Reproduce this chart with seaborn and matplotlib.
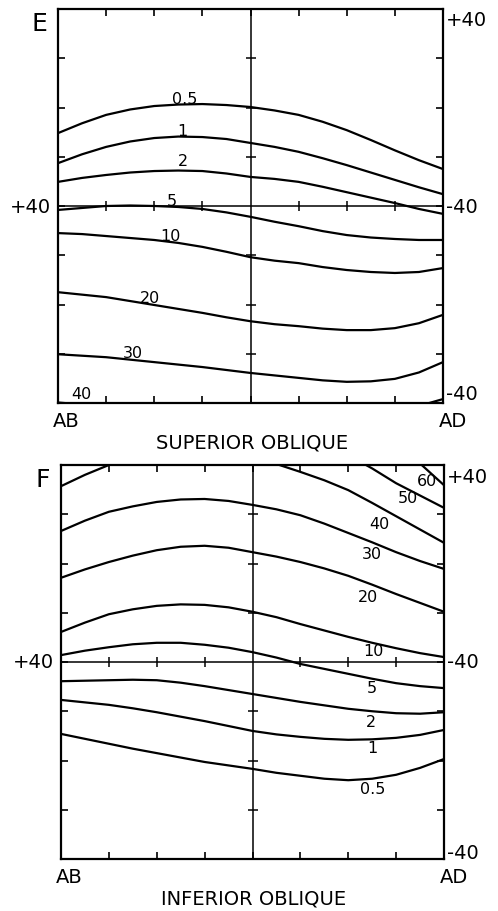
import numpy as np
import pandas as pd
import matplotlib
matplotlib.use("Agg")
import matplotlib.pyplot as plt
import seaborn as sns

# ---------------- data ----------------
x_pos = [-40, -35, -30, -25, -20, -15, -10, -5, 0, 5, 10, 15, 20, 25, 30, 35, 40]

# Panel E: superior oblique
e_levels = ["0.5", "1", "2", "5", "10", "20", "30", "40"]
e_05 = [14.8, 16.8, 18.5, 19.6, 20.3, 20.6, 20.7, 20.5, 20.1, 19.4, 18.5, 17.1, 15.4, 13.4, 11.3, 9.3, 7.5]
e_1 = [8.7, 10.5, 12.0, 13.1, 13.8, 14.1, 14.0, 13.6, 12.8, 12.0, 11.0, 9.7, 8.3, 6.8, 5.3, 3.8, 2.4]
e_2 = [4.9, 5.7, 6.3, 6.8, 7.1, 7.2, 7.1, 6.6, 5.9, 5.5, 4.9, 3.9, 2.8, 1.7, 0.6, -0.6, -1.6]
e_5 = [-0.8, -0.4, 0.0, 0.1, 0.0, -0.2, -0.6, -1.3, -2.2, -3.2, -4.1, -5.1, -5.9, -6.4, -6.7, -6.9, -6.9]
e_10 = [-5.5, -5.7, -6.1, -6.5, -6.9, -7.5, -8.3, -9.3, -10.4, -11.1, -11.6, -12.4, -13.0, -13.4, -13.6, -13.4, -12.6]
e_20 = [-17.5, -18.0, -18.5, -19.3, -20.1, -20.9, -21.7, -22.6, -23.4, -24.0, -24.4, -24.9, -25.2, -25.2, -24.8, -23.8, -22.1]
e_30 = [-30.1, -30.4, -30.7, -31.2, -31.7, -32.2, -32.7, -33.3, -33.9, -34.4, -34.9, -35.4, -35.7, -35.6, -35.1, -33.8, -31.7]
e_40 = [-39.9, -40.3, -40.7, -41.3, -42.0, -42.8, -43.6, -44.4, -45.0, -45.6, -46.0, -46.2, -46.0, -45.0, -43.0, -40.6, -39.2]
e_curves = [e_05, e_1, e_2, e_5, e_10, e_20, e_30, e_40]
e_label_x = [-13.6, -14.2, -14.0, -16.3, -16.7, -20.9, -24.4, -35.2]
e_label_y = [21.9, 15.4, 9.3, 1.2, -5.9, -18.5, -29.8, -38.0]

# Panel F: inferior oblique
f_levels = ["60", "50", "40", "30", "20", "10", "5", "2", "1", "0.5"]
f_60 = [54.0, 56.5, 58.3, 59.5, 60.0, 60.2, 60.0, 59.2, 58.0, 56.3, 54.0, 51.5, 49.5, 47.0, 44.0, 40.3, 35.9]
f_50 = [45.0, 47.2, 49.0, 50.2, 51.0, 51.4, 51.5, 51.0, 50.0, 48.5, 46.5, 44.4, 42.0, 39.3, 36.3, 33.8, 31.3]
f_40 = [35.7, 38.0, 40.0, 41.2, 42.0, 42.5, 42.6, 42.2, 41.4, 40.2, 38.6, 36.9, 34.9, 32.3, 29.6, 26.9, 24.2]
f_30 = [26.6, 28.7, 30.5, 31.6, 32.5, 33.0, 33.1, 32.7, 31.9, 31.0, 29.8, 28.1, 26.2, 24.3, 22.3, 20.5, 18.9]
f_20 = [17.1, 18.8, 20.3, 21.6, 22.7, 23.4, 23.6, 23.2, 22.3, 21.4, 20.3, 19.0, 17.5, 15.7, 13.8, 12.0, 10.2]
f_10 = [6.1, 8.0, 9.7, 10.7, 11.4, 11.7, 11.6, 11.1, 10.2, 9.1, 7.7, 6.4, 5.1, 3.9, 2.8, 1.8, 1.0]
f_5 = [1.4, 2.3, 3.0, 3.6, 3.9, 3.9, 3.5, 2.9, 2.0, 0.9, -0.4, -1.4, -2.4, -3.4, -4.3, -4.9, -5.3]
f_2 = [-3.9, -3.8, -3.7, -3.6, -3.7, -4.2, -4.9, -5.7, -6.5, -7.3, -8.1, -8.8, -9.5, -10.0, -10.4, -10.5, -10.2]
f_1 = [-7.7, -8.2, -8.7, -9.4, -10.2, -11.1, -12.0, -13.0, -14.0, -14.7, -15.2, -15.6, -15.8, -15.7, -15.4, -14.8, -13.8]
f_05 = [-14.6, -15.6, -16.6, -17.6, -18.5, -19.4, -20.3, -21.0, -21.7, -22.5, -23.1, -23.7, -24.0, -23.7, -22.9, -21.5, -19.7]
f_curves = [f_60, f_50, f_40, f_30, f_20, f_10, f_5, f_2, f_1, f_05]
f_label_x = [36.4, 32.5, 26.6, 25.0, 24.1, 25.2, 25.0, 24.8, 25.0, 25.2]
f_label_y = [36.8, 33.3, 28.2, 22.1, 13.4, 2.4, -5.1, -12.0, -17.3, -25.6]

tick_vals = [-30, -20, -10, 0, 10, 20, 30]
right_labels = ["+40", "-40", "-40"]
left_label = "+40"

# ---------------- style ----------------
sns.set_style("white")
plt.rcParams["font.family"] = ["DejaVu Sans"]
plt.rcParams["text.color"] = "black"

fig = plt.figure(figsize=(4.98, 9.12), dpi=100)
axE = fig.add_axes([58 / 498, (912 - 404) / 912, 385 / 498, 394 / 912])
axF = fig.add_axes([61 / 498, (912 - 860) / 912, 383 / 498, 394 / 912])


def draw_panel(ax, levels, curves, lx, ly, letter, title, right_y):
    frames = []
    for lev, vals in zip(levels, curves):
        frames.append(pd.DataFrame({"x": x_pos, "y": vals, "level": lev}))
    df = pd.concat(frames, ignore_index=True)
    sns.lineplot(data=df, x="x", y="y", units="level", estimator=None,
                 color="black", lw=1.6, sort=False, ax=ax, legend=False)
    ax.set_xlim(-40, 40)
    ax.set_ylim(-40, 40)
    ax.axvline(0, color="black", lw=1.1)
    ax.axhline(0, color="black", lw=1.1)
    # small cross ticks on the centre lines
    others = [t for t in tick_vals if t != 0]
    ax.plot(others, [0] * len(others), ls="none", marker="|", ms=7, mew=1.1, color="black")
    ax.plot([0] * len(others), others, ls="none", marker="_", ms=7, mew=1.1, color="black")
    ax.set_xticks(tick_vals)
    ax.set_yticks(tick_vals)
    ax.tick_params(direction="in", length=5, width=1.2, top=True, right=True,
                   bottom=True, left=True, labelbottom=False, labelleft=False,
                   color="black")
    ax.set_xlabel("")
    ax.set_ylabel("")
    for s in ax.spines.values():
        s.set_visible(True)
        s.set_color("black")
        s.set_linewidth(1.6)
    for lev, x, y in zip(levels, lx, ly):
        ax.text(x, y, lev, ha="center", va="center", fontsize=11.5, color="black")
    ax.text(-43.9, 37.2, letter, ha="center", va="center", fontsize=18, color="black")
    ax.text(-41.4, 0, left_label, ha="right", va="center", fontsize=14, color="black")
    for lab, y in zip(right_labels, right_y):
        ax.text(40.6, y, lab, ha="left", va="center", fontsize=14, color="black")
    ax.text(-38.2, -43.6, "AB", ha="center", va="center", fontsize=14, color="black")
    ax.text(42.1, -43.5, "AD", ha="center", va="center", fontsize=14, color="black")
    ax.text(0.3, -47.9, title, ha="center", va="center", fontsize=14, color="black")


draw_panel(axE, e_levels, e_curves, e_label_x, e_label_y, "E", "SUPERIOR OBLIQUE", [37.8, 0, -38.0])
draw_panel(axF, f_levels, f_curves, f_label_x, f_label_y, "F", "INFERIOR OBLIQUE", [37.6, 0, -38.6])

fig.savefig("out.png", dpi=100)
